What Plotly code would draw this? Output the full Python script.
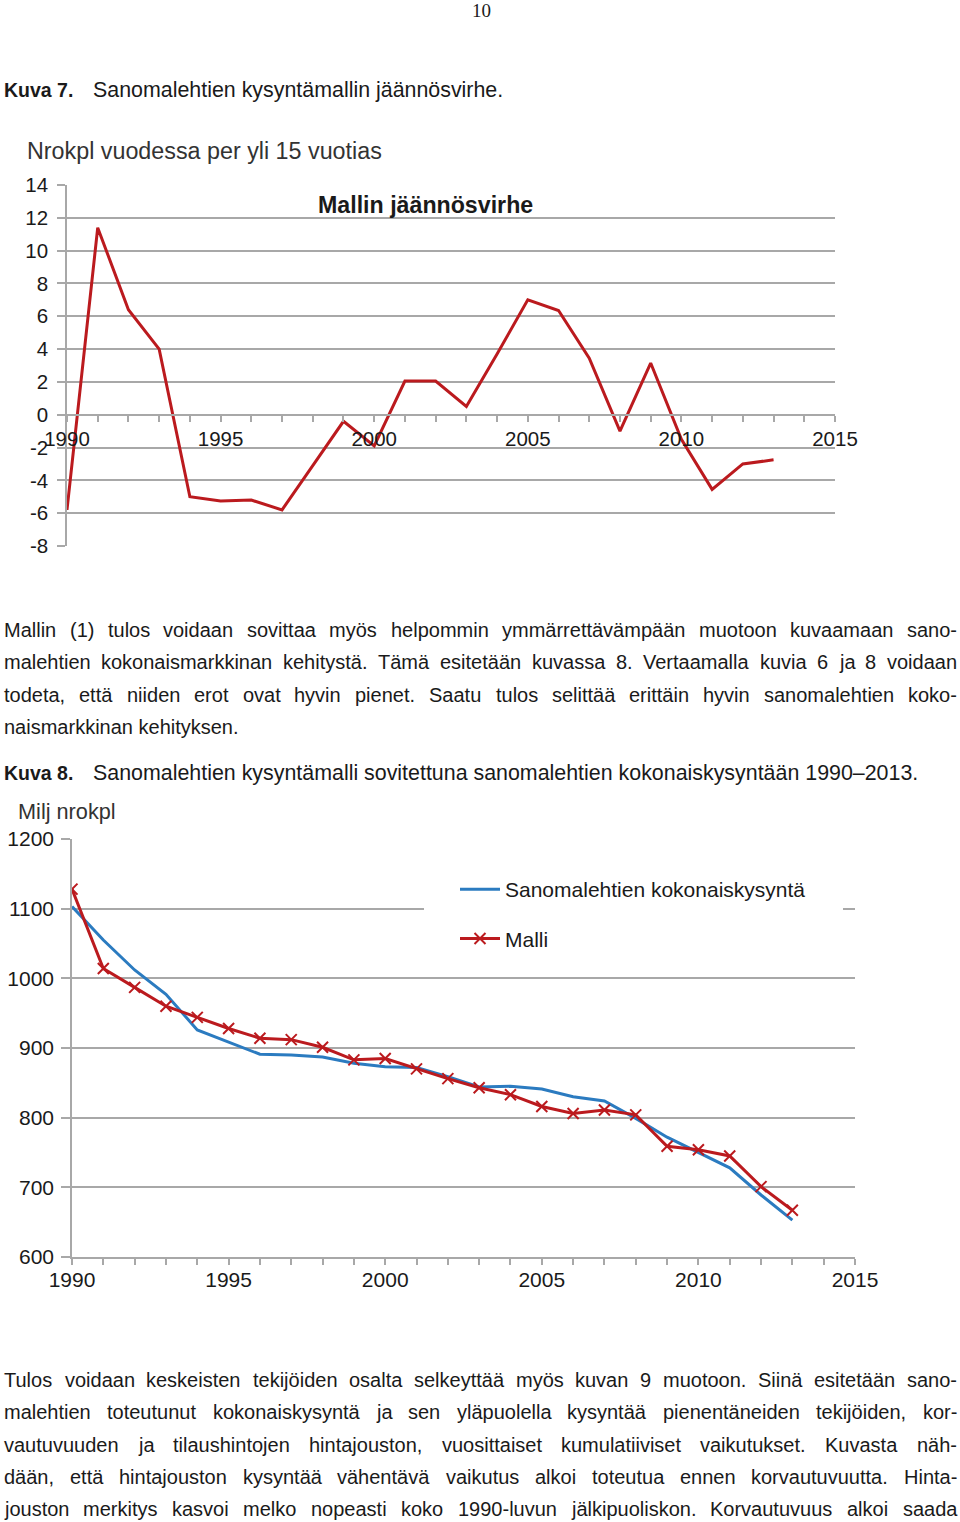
import plotly.graph_objects as go

W, H = 960, 1522

# ---------------- data ----------------
years = list(range(1990, 2014))
residual = [-5.8, 11.4, 6.4, 4.0, -5.0, -5.25, -5.2, -5.8, -3.1, -0.4, -1.9, 2.05,
            2.05, 0.5, 3.7, 7.0, 6.35, 3.45, -1.0, 3.15, -1.5, -4.55, -3.0, -2.75]

demand = [1103, 1055, 1012, 977, 926, 909, 891, 890, 887, 878, 873, 872,
          859, 844, 845, 841, 830, 824, 799, 772, 750, 728, 689, 653]
model = [1128, 1014, 987, 960, 944, 928, 914, 912, 901, 883, 885, 870,
         856, 843, 833, 816, 806, 811, 804, 759, 754, 745, 701, 667]

x_ticks = [1990, 1995, 2000, 2005, 2010, 2015]
y1_ticks = list(range(-8, 15, 2))
y2_ticks = list(range(600, 1201, 100))

chart1_title = "Mallin jäännösvirhe"
chart1_ytitle = "Nrokpl vuodessa per yli 15 vuotias"
chart2_ytitle = "Milj nrokpl"
series2_names = ["Sanomalehtien kokonaiskysyntä", "Malli"]

para1 = [
    "Mallin (1) tulos voidaan sovittaa myös helpommin ymmärrettävämpään muotoon kuvaamaan sano-",
    "malehtien kokonaismarkkinan kehitystä. Tämä esitetään kuvassa 8. Vertaamalla kuvia 6 ja 8 voidaan",
    "todeta, että niiden erot ovat hyvin pienet. Saatu tulos selittää erittäin hyvin sanomalehtien koko-",
]
para1_last = "naismarkkinan kehityksen."
para2 = [
    "Tulos voidaan keskeisten tekijöiden osalta selkeyttää myös kuvan 9 muotoon. Siinä esitetään sano-",
    "malehtien toteutunut kokonaiskysyntä ja sen yläpuolella kysyntää pienentäneiden tekijöiden, kor-",
    "vautuvuuden ja tilaushintojen hintajouston, vuosittaiset kumulatiiviset vaikutukset. Kuvasta näh-",
    "dään, että hintajouston kysyntää vähentävä vaikutus alkoi toteutua ennen korvautuvuutta. Hinta-",
    "jouston merkitys kasvoi melko nopeasti koko 1990-luvun jälkipuoliskon. Korvautuvuus alkoi saada",
]
cap7 = ("Kuva 7.", "Sanomalehtien kysyntämallin jäännösvirhe.")
cap8 = ("Kuva 8.", "Sanomalehtien kysyntämalli sovitettuna sanomalehtien kokonaiskysyntään 1990–2013.")
page_no = "10"

# ---------------- styling ----------------
FONT = "Liberation Sans, Arial, sans-serif"
TXT = "#1a1a1a"
GRID = "#A8A8A8"
RED = "#BB1A1E"
BLUE = "#2B7BC0"

def px_x(p):
    return p / W

def px_y(p):
    return 1 - p / H

AW = {' ': 278, '(': 333, ')': 333, ',': 278, '-': 333, '.': 278, ':': 278, '–': 556,
      'A': 667, 'B': 667, 'C': 722, 'D': 722, 'E': 667, 'F': 611, 'G': 778, 'H': 722,
      'I': 278, 'J': 500, 'K': 667, 'L': 556, 'M': 833, 'N': 722, 'O': 778, 'P': 667,
      'R': 722, 'S': 667, 'T': 611, 'U': 722, 'V': 667, 'W': 944,
      'a': 556, 'b': 556, 'c': 500, 'd': 556, 'e': 556, 'f': 278, 'g': 556, 'h': 556,
      'i': 222, 'j': 222, 'k': 500, 'l': 222, 'm': 833, 'n': 556, 'o': 556, 'p': 556,
      'q': 556, 'r': 333, 's': 500, 't': 278, 'u': 556, 'v': 500, 'w': 722, 'x': 500,
      'y': 500, 'z': 500, 'ä': 556, 'ö': 556, 'å': 556}

def text_w(s, size):
    return sum(AW.get(c, 556) for c in s) / 1000.0 * size

fig = go.Figure()

# Chart 1
fig.add_trace(go.Scatter(x=years, y=residual, mode="lines", line=dict(color=RED, width=3),
                         xaxis="x", yaxis="y", showlegend=False, hoverinfo="skip"))
# Chart 2
fig.add_trace(go.Scatter(x=years, y=demand, mode="lines", name=series2_names[0],
                         line=dict(color=BLUE, width=3), xaxis="x2", yaxis="y2",
                         legendgroup="a"))
fig.add_trace(go.Scatter(x=years, y=model, mode="lines+markers", name=series2_names[1],
                         line=dict(color=RED, width=3),
                         marker=dict(symbol="x-thin", size=11, line=dict(color=RED, width=2)),
                         xaxis="x2", yaxis="y2", legendgroup="b"))

tickfont1 = dict(family=FONT, size=20.5, color=TXT)
tickfont2 = dict(family=FONT, size=21, color=TXT)

annotations = []

def ann(text, x, y, size, xanchor="left", bold=False, family=FONT, color=TXT):
    annotations.append(dict(text=("<b>%s</b>" % text) if bold else text,
                            x=px_x(x), y=px_y(y), xref="paper", yref="paper",
                            xanchor=xanchor, yanchor="middle", showarrow=False,
                            borderpad=0, borderwidth=0,
                            font=dict(family=family, size=size, color=color)))

# page number and captions
ann(page_no, 481, 11, 19, xanchor="center", family="Liberation Serif, Times New Roman, serif")
ann(cap7[0], 4, 90, 19.5, bold=True)
ann(cap7[1], 93, 90, 21.4)
ann(cap8[0], 4, 773, 19.5, bold=True)
ann(cap8[1], 93, 773, 21.4)

# chart titles
ann(chart1_title, 425, 205, 23.2, xanchor="center", bold=True)
ann(chart1_ytitle, 27, 151, 23.3, color="#333333")
ann(chart2_ytitle, 18, 811, 21.7, color="#333333")

# justified body text
BODY = 20
LEFT, RIGHT = 4, 957

def justified(line, ypix):
    words = line.split(" ")
    widths = [text_w(w, BODY) for w in words]
    gap = (RIGHT - LEFT - sum(widths)) / (len(words) - 1)
    gap = max(gap, 3)
    xpos = LEFT
    for w, wd in zip(words, widths):
        ann(w, xpos, ypix, BODY)
        xpos += wd + gap

for line, yp in zip(para1, [630, 662, 695]):
    justified(line, yp)
ann(para1_last, LEFT, 727, BODY)
for line, yp in zip(para2, [1380, 1412, 1445, 1477, 1509]):
    justified(line, yp)

fig.update_layout(
    width=W, height=H, margin=dict(l=0, r=0, t=0, b=0, autoexpand=False),
    paper_bgcolor="white", plot_bgcolor="white",
    annotations=annotations,
    xaxis=dict(domain=[px_x(67), px_x(835)], range=[1990, 2015], anchor="free",
               position=px_y(415), tickvals=x_ticks, ticks="outside", ticklen=6,
               tickcolor=GRID, tickwidth=1.5, showgrid=False, showline=True,
               linecolor=GRID, linewidth=1.5, zeroline=False, tickfont=tickfont1,
               ticklabelstandoff=0, automargin=False,
               minor=dict(dtick=1, ticks="outside", ticklen=6, tickcolor=GRID, tickwidth=1.5,
                          showgrid=False)),
    yaxis=dict(domain=[px_y(546), px_y(185)], range=[-8, 14], tickvals=y1_ticks,
               ticktext=[str(v) for v in y1_ticks],
               anchor="x", ticks="outside", ticklen=8, tickcolor=GRID, tickwidth=1.5,
               showgrid=True, gridcolor=GRID, gridwidth=1.5, showline=True,
               linecolor=GRID, linewidth=1.5, zeroline=False, tickfont=tickfont1,
               ticklabelstandoff=5, automargin=False),
    xaxis2=dict(domain=[px_x(72), px_x(855)], range=[1990, 2015], anchor="y2",
                tickvals=x_ticks, ticks="outside", ticklen=6, tickcolor=GRID, tickwidth=1.5,
                showgrid=False, showline=True, linecolor=GRID, linewidth=1.5,
                zeroline=False, tickfont=tickfont2, ticklabelstandoff=-3, automargin=False,
                minor=dict(dtick=1, ticks="outside", ticklen=6, tickcolor=GRID, tickwidth=1.5,
                           showgrid=False)),
    yaxis2=dict(domain=[px_y(1257), px_y(839)], range=[600, 1200], tickvals=y2_ticks,
                anchor="x2", ticks="outside", ticklen=9, tickcolor=GRID, tickwidth=1.5,
                showgrid=True, gridcolor=GRID, gridwidth=1.5, showline=True,
                linecolor=GRID, linewidth=1.5, zeroline=False, tickfont=tickfont2,
                ticklabelstandoff=3, automargin=False),
    legend=dict(x=px_x(455), xanchor="left", y=px_y(869), yanchor="top",
                bgcolor="rgba(0,0,0,0)", font=dict(family=FONT, size=21, color=TXT),
                tracegroupgap=19, itemwidth=40),
    shapes=[dict(type="rect", xref="paper", yref="paper",
                 x0=px_x(424), x1=px_x(843), y0=px_y(916), y1=px_y(900),
                 fillcolor="white", line=dict(width=0), layer="above")],
)

fig.write_html("out.html", config={"displayModeBar": False},
               post_script="document.body.style.margin='0';document.body.style.padding='0';"
                           "document.body.style.overflow='hidden';")
